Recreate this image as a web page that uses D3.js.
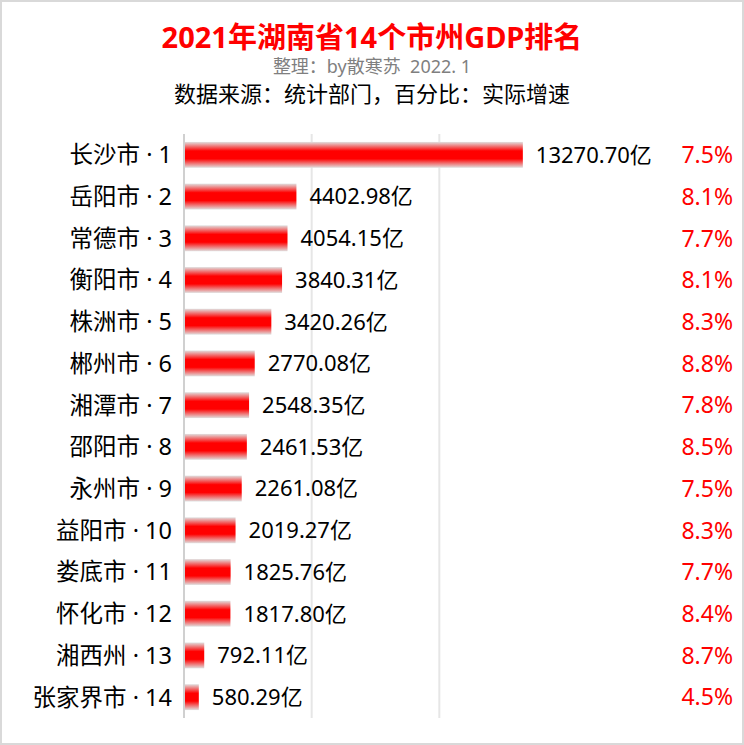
<!DOCTYPE html><html><head><meta charset="utf-8"><script src="https://d3js.org/d3.v7.min.js"></script>
<style>body{margin:0;background:#fff}svg{display:block}</style></head><body><script>
const cities=["长沙市","岳阳市","常德市","衡阳市","株洲市","郴州市","湘潭市","邵阳市","永州市","益阳市","娄底市","怀化市","湘西州","张家界市"];
const gdp=[13270.70,4402.98,4054.15,3840.31,3420.26,2770.08,2548.35,2461.53,2261.08,2019.27,1825.76,1817.80,792.11,580.29];
const growth=["7.5%","8.1%","7.7%","8.1%","8.3%","8.8%","7.8%","8.5%","7.5%","8.3%","7.7%","8.4%","8.7%","4.5%"];
const ticks=[0,5000,10000,15000];
const W=744,H=745,F="'Noto Sans','Noto Sans CJK SC',sans-serif";
const svg=d3.select("body").append("svg").attr("width",W).attr("height",H);
svg.append("rect").attr("x",1).attr("y",1).attr("width",W-2).attr("height",H-2).attr("fill","#fff").attr("stroke","#d9d9d9").attr("stroke-width",2);
const x=d3.scaleLinear().domain([0,15000]).range([184,567]);
const y=d3.scaleBand().domain(d3.range(14)).range([134,718]).paddingInner(0.38).paddingOuter(0.19);
const g=svg.append("defs").append("linearGradient").attr("id","gr").attr("x1",0).attr("y1",0).attr("x2",0).attr("y2",1);
[[0,"#e0e0e0"],[0.35,"#ff0000"],[0.65,"#ff0000"],[1,"#e0e0e0"]].forEach(s=>g.append("stop").attr("offset",s[0]).attr("stop-color",s[1]));
svg.selectAll(".gl").data(ticks.slice(1,3)).join("line").attr("x1",d=>x(d)).attr("x2",d=>x(d)).attr("y1",134).attr("y2",718).attr("stroke","#e6e6e6").attr("stroke-width",2);
svg.append("line").attr("x1",x(0)).attr("x2",x(0)).attr("y1",134).attr("y2",718).attr("stroke","#d0d0d0").attr("stroke-width",2);
svg.selectAll(".bar").data(gdp).join("rect").attr("x",x(0)+1).attr("y",(d,i)=>y(i)).attr("height",y.bandwidth()).attr("width",d=>x(d)-x(0)-1).attr("fill","url(#gr)");
const c=i=>y(i)+y.bandwidth()/2;
svg.selectAll(".cl").data(cities).join("text").attr("x",172).attr("y",(d,i)=>c(i)).attr("dy","0.36em").attr("text-anchor","end").attr("font-family",F).attr("font-size",23.5).text((d,i)=>d+" · "+(i+1));
svg.selectAll(".vl").data(gdp).join("text").attr("x",d=>x(d)+13).attr("y",(d,i)=>c(i)).attr("dy","0.36em").attr("font-family",F).attr("font-size",22).text(d=>d.toFixed(2)+"亿");
svg.selectAll(".pl").data(growth).join("text").attr("x",733).attr("y",(d,i)=>c(i)).attr("dy","0.36em").attr("text-anchor","end").attr("fill","#ff0000").attr("font-family",F).attr("font-size",23).text(d=>d);
svg.append("text").attr("x",W/2).attr("y",48).attr("text-anchor","middle").attr("fill","#ff0000").attr("font-weight","bold").attr("font-family",F).attr("font-size",29).text("2021年湖南省14个市州GDP排名");
svg.append("text").attr("x",W/2).attr("y",73).attr("text-anchor","middle").attr("fill","#7f7f7f").attr("font-family",F).attr("font-size",18).attr("xml:space","preserve").text("整理：by散寒苏  2022. 1");
svg.append("text").attr("x",W/2).attr("y",102).attr("text-anchor","middle").attr("fill","#000").attr("font-family",F).attr("font-size",22).text("数据来源：统计部门，百分比：实际增速");
</script></body></html>
